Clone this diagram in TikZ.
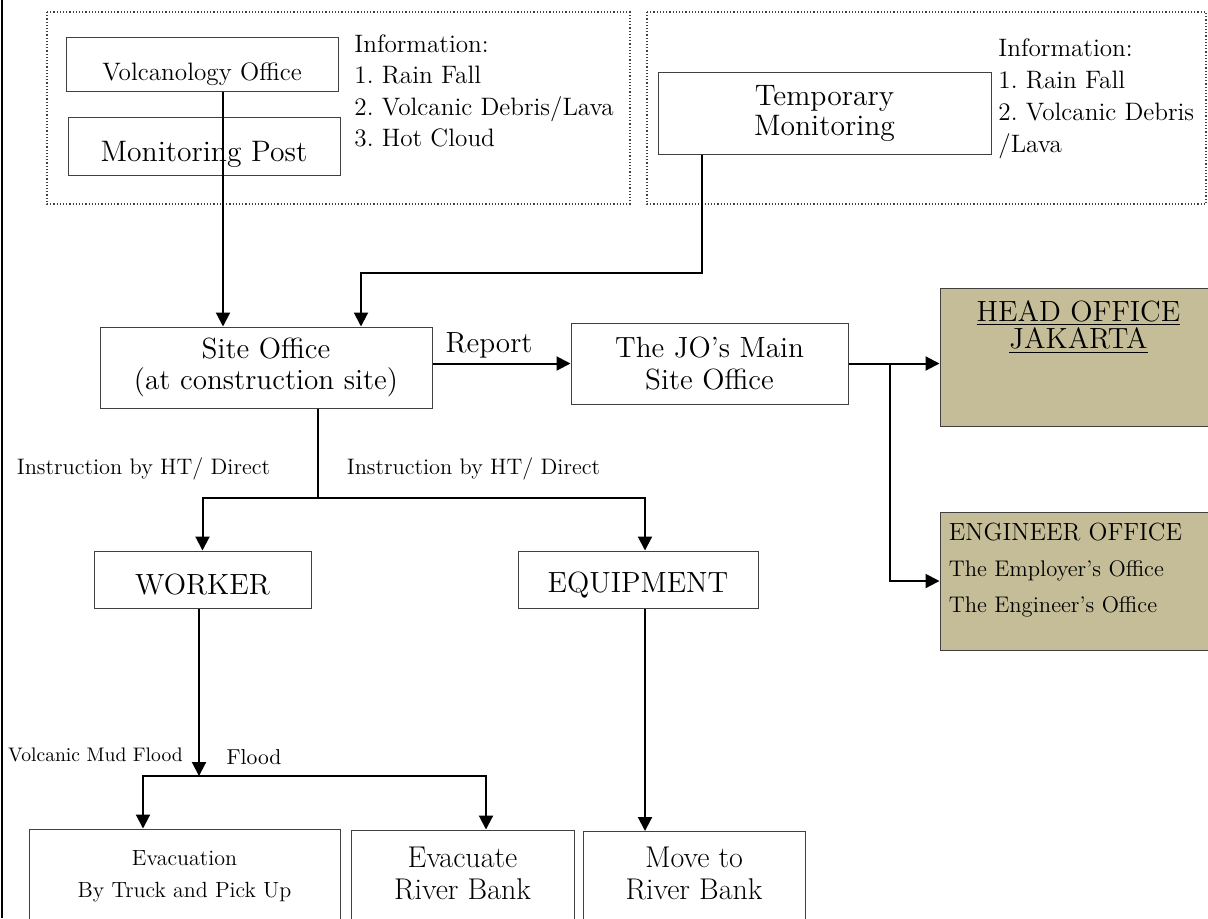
\documentclass[tikz,border=0pt]{standalone}
\usepackage{tikz}
\usetikzlibrary{positioning}
\usetikzlibrary{arrows.meta}
\usetikzlibrary{calc}
\usepackage{xcolor}
\definecolor{tanfill}{HTML}{C4BD97}
\newcommand\fsz[2]{\fontsize{#1}{#2}\selectfont}
\frenchspacing
\tikzset{
  box/.style={draw=black!75, line width=0.5pt, inner sep=0pt, align=center},
  frame/.style={draw=black!75, line width=0.6pt, densely dotted},
  conn/.style={line width=1pt, -{Triangle[length=7pt,width=7pt]}},
  wire/.style={line width=1pt},
  boxtext/.style={inner sep=0pt, align=center},
  bigtext/.style={font=\fsz{14.6}{16}},
  infotext/.style={anchor=north west, inner sep=0pt, align=left},
  smalltext/.style={inner sep=0pt, font=\fsz{11.2}{14}}
}

\begin{document}
\begin{tikzpicture}[x=0.5pt, y=-0.5pt]
  \useasboundingbox (0,0) rectangle (1208,918);
  \clip (0,0) rectangle (1208,918);
  \draw[line width=1pt] (1.5,0) -- (1.5,918);
  % information frames
  \draw[frame] (47,12) rectangle (630,204);
  \draw[frame] (647,12) rectangle (1206,204);
  \node[box, minimum width=136pt, minimum height=27pt,
        label={[boxtext, font=\fsz{12.6}{15}, yshift=-5pt]center:Volcanology Office}] (volc) at (202,64) {};
  \node[box, minimum width=136pt, minimum height=29pt,
        label={[boxtext, font=\fsz{14.8}{16}, yshift=-4pt]center:Monitoring Post}] (monpost) at (204,146) {};
  \node[infotext, font=\fsz{12.6}{15.75}] (infoleft) at (354,34)
        {Information:\\1. Rain Fall\\2. Volcanic Debris/Lava\\3. Hot Cloud};
  \node[box, font=\fsz{14.8}{15}, minimum width=166.5pt, minimum height=41pt] (temp) at (824.5,113)
        {Temporary\\Monitoring};
  \node[infotext, font=\fsz{12.6}{16}] (inforight) at (998,38)
        {Information:\\1. Rain Fall\\2. Volcanic Debris\\/Lava};
  % offices
  \node[box, font=\fsz{14.6}{15.5}, minimum width=166pt, minimum height=40.5pt] (site) at (266,367.5)
        {Site Office\\(at construction site)};
  \node[box, bigtext, minimum width=138.5pt, minimum height=40.5pt] (jo) at (709.5,363.5)
        {The JO’s Main\\Site Office};
  \node[box, fill=tanfill, minimum width=138.5pt, minimum height=69pt,
        label={[boxtext, anchor=north, yshift=-6.35pt, font=\fsz{14.6}{12.5}]north:{\underline{HEAD OFFICE}\\\underline{JAKARTA}}}] (head) at (1078.5,357) {};
  \node[box, fill=tanfill, minimum width=138.5pt, minimum height=69pt,
        label={[boxtext, align=left, anchor=north west, xshift=4.5pt, yshift=-5.5pt, font=\fsz{11.3}{18}]north west:{{\fsz{12.4}{18}ENGINEER OFFICE}\\The Employer’s Office\\The Engineer’s Office}}] (engin) at (1078.5,581) {};
  \node[bigtext, inner sep=0pt] (report) at (489,345) {Report};
  % workers and equipment
  \node[smalltext] (instrleft) at (143.5,469) {Instruction by HT/ Direct};
  \node[smalltext] (instrright) at (473.5,469) {Instruction by HT/ Direct};
  \node[box, minimum width=108.5pt, minimum height=28.5pt,
        label={[boxtext, bigtext, yshift=-2.75pt]center:WORKER}] (worker) at (202.5,579.5) {};
  \node[box, minimum width=120pt, minimum height=28.5pt,
        label={[boxtext, bigtext, yshift=-2.75pt]center:EQUIPMENT}] (equip) at (638,579.5) {};
  \node[inner sep=0pt, font=\fsz{9.8}{12}] (mudflood) at (95.5,755) {Volcanic Mud Flood};
  \node[inner sep=0pt, font=\fsz{10.8}{13}] (flood) at (254,757) {Flood};
  % actions
  \node[box, minimum width=155.5pt, minimum height=60.5pt,
        label={[boxtext, anchor=north, yshift=-10.85pt, font=\fsz{11}{16}]north:{Evacuation\\By Truck and Pick Up}}] (evacone) at (184.5,889.5) {};
  \node[box, minimum width=111.5pt, minimum height=60pt,
        label={[boxtext, anchor=north, yshift=-8.5pt, font=\fsz{15}{16}]north:{Evacuate\\River Bank}}] (evactwo) at (462.5,890) {};
  \node[box, minimum width=111pt, minimum height=59pt,
        label={[boxtext, anchor=north, yshift=-8pt, font=\fsz{15}{16}]north:{Move to\\River Bank}}] (move) at (694,890.5) {};
  % connectors
  \draw[conn] ([xshift=10.5pt]volc.south) -- ([xshift=10.5pt]volc.south |- site.north);
  \draw[conn] ([xshift=-61.25pt]temp.south) -- ++(0,118) -| ([xshift=47.5pt]site.north);
  \draw[conn] (jo.west -| site.east) -- (jo.west);
  \coordinate (jofork) at (jo.east -| 890,0);
  \draw[conn] (jo.east) -- (jo.east -| head.west);
  \draw[conn] (jofork) |- (engin.west);
  \coordinate (sitefork) at (318,498);
  \draw[wire] ([xshift=26pt]site.south) -- (sitefork);
  \draw[conn] (sitefork) -| (worker.north);
  \draw[conn] (sitefork) -| ([xshift=3.5pt]equip.north);
  \coordinate (floodfork) at (199,776);
  \draw[conn] (worker.south -| floodfork) -- (floodfork);
  \draw[conn] (floodfork) -| ([xshift=-20.75pt]evacone.north);
  \draw[conn] (floodfork) -| ([xshift=11.75pt]evactwo.north);
  \draw[conn] ([xshift=3.5pt]equip.south) -- ([xshift=3.5pt]equip.south |- move.north);
\end{tikzpicture}
\end{document}
